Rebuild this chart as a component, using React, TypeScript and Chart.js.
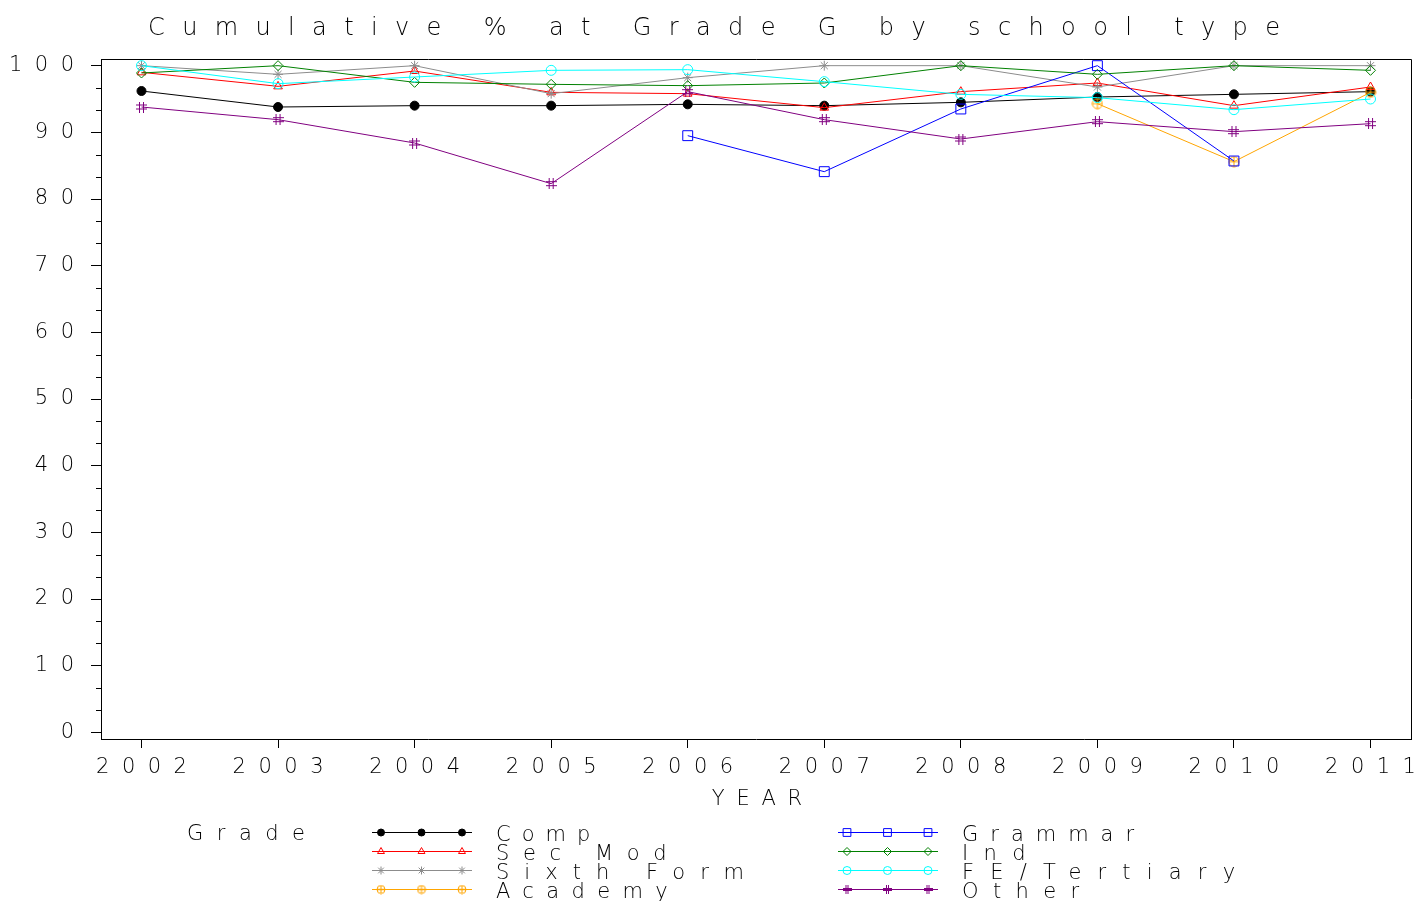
import React, { useEffect, useRef } from 'react';
import { Chart, registerables } from 'chart.js';
import { drawPoint } from 'chart.js/helpers';

Chart.register(...registerables);

// ---------------- data ----------------
const years = [2002, 2003, 2004, 2005, 2006, 2007, 2008, 2009, 2010, 2011];
const yTickValues = [0, 10, 20, 30, 40, 50, 60, 70, 80, 90, 100];

const compValues = [96.2, 93.8, 94.0, 94.0, 94.2, 94.0, 94.5, 95.3, 95.7, 96.1];
const secModValues = [99.0, 96.9, 99.2, 96.0, 95.8, 93.7, 96.1, 97.4, 94.0, 96.8];
const sixthFormValues = [100, 98.7, 100, 95.8, 98.2, 100, 100, 96.8, 100, 100];
const academyValues = [null, null, null, null, null, null, null, 94.3, 85.6, 96.0];
const grammarValues = [null, null, null, null, 89.5, 84.1, 93.5, 100, 85.7, null];
const indValues = [98.9, 100, 97.5, 97.2, 97.0, 97.4, 100, 98.7, 100, 99.3];
const feTertiaryValues = [100, 97.3, 98.3, 99.3, 99.4, 97.6, 95.7, 95.2, 93.4, 95.0];
const otherValues = [93.8, 91.9, 88.4, 82.3, 96.1, 91.9, 89.0, 91.6, 90.1, 91.3];

const seriesNames = ['Comp', 'Sec Mod', 'Sixth Form', 'Academy', 'Grammar', 'Ind', 'FE/Tertiary', 'Other'];
const seriesValues = [compValues, secModValues, sixthFormValues, academyValues, grammarValues, indValues, feTertiaryValues, otherValues];

const titleText = 'Cumulative % at Grade G by school type';
const xTitleText = 'YEAR';
const legendTitleText = 'Grade';

// ---------------- styles ----------------
const FAMILY = "'DejaVu Sans', sans-serif";
const WEIGHT = 200;
const seriesColors = ['#000000', '#ff0000', '#8c8c8c', '#ffa500', '#0000ff', '#008000', '#00ffff', '#800080'];
const TEXT_COLOR = '#000';
const CHAR_ADVANCE = 26.3;

function makeHash(size: number, color: string) {
  const c = document.createElement('canvas');
  c.width = size; c.height = size;
  const g = c.getContext('2d')!;
  g.strokeStyle = color; g.lineWidth = 1;
  const a = Math.floor(size / 3) + 0.5;
  const b = size - Math.floor(size / 3) - 0.5;
  g.beginPath();
  g.moveTo(a, 0); g.lineTo(a, size);
  g.moveTo(b, 0); g.lineTo(b, size);
  g.moveTo(0, a); g.lineTo(size, a);
  g.moveTo(0, b); g.lineTo(size, b);
  g.stroke();
  return c;
}

function makeCirclePlus(size: number, color: string) {
  const c = document.createElement('canvas');
  c.width = size; c.height = size;
  const g = c.getContext('2d')!;
  g.strokeStyle = color; g.lineWidth = 1;
  const m = size / 2;
  const r = size / 2 - 1;
  g.beginPath();
  g.arc(m, m, r, 0, Math.PI * 2);
  g.moveTo(m, m - r); g.lineTo(m, m + r);
  g.moveTo(m - r, m); g.lineTo(m + r, m);
  g.stroke();
  return c;
}

// draw text so that each character takes roughly the same advance (like the SAS stroke font)
function spacedText(ctx: CanvasRenderingContext2D, text: string, x: number, y: number, adv: number) {
  (ctx as any).letterSpacing = '0px';
  const w0 = ctx.measureText(text).width;
  const sp = Math.max(0, (text.length * adv - w0) / text.length);
  (ctx as any).letterSpacing = `${sp}px`;
  ctx.fillText(text, x, y);
  return w0 + sp * (text.length - 1);
}

export default function App() {
  const canvasRef = useRef<HTMLCanvasElement | null>(null);

  useEffect(() => {
    const canvas = canvasRef.current;
    if (!canvas) return;

    const academyBig = makeCirclePlus(12, seriesColors[3]);
    const otherBig = makeHash(11, seriesColors[7]);
    const academySmall = makeCirclePlus(10, seriesColors[3]);
    const otherSmall = makeHash(9, seriesColors[7]);

    const pointStyles: any[] = ['circle', 'triangle', 'star', academyBig, 'rect', 'rectRot', 'circle', otherBig];
    const pointRadii = [4.5, 5, 5, 6, 7, 5, 5, 5];
    const legendStyles: any[] = ['circle', 'triangle', 'star', academySmall, 'rect', 'rectRot', 'circle', otherSmall];
    const legendRadii = [3.5, 4, 4, 4, 5.5, 4, 4, 4];

    const datasets = seriesNames.map((name, i) => ({
      label: name,
      data: years.map((yr, j) => ({ x: yr, y: seriesValues[i][j] })),
      borderColor: seriesColors[i],
      backgroundColor: i === 0 ? seriesColors[i] : 'rgba(0,0,0,0)',
      pointBackgroundColor: i === 0 ? seriesColors[i] : 'rgba(0,0,0,0)',
      pointBorderColor: seriesColors[i],
      borderWidth: 1,
      pointBorderWidth: 1,
      pointStyle: pointStyles[i],
      pointRadius: pointRadii[i],
      tension: 0,
      spanGaps: false,
      order: seriesNames.length - i,
    }));

    const TICK_SPACING = 12.5;
    const tickFont = { family: FAMILY, size: 21, weight: WEIGHT as any };

    const sasPlugin = {
      id: 'sasDecor',
      beforeDraw(chart: any) {
        chart.ctx.letterSpacing = `${TICK_SPACING}px`;
      },
      afterDraw(chart: any) {
        const ctx = chart.ctx as CanvasRenderingContext2D;
        const { left, right, top, bottom } = chart.chartArea;
        ctx.save();
        (ctx as any).letterSpacing = '0px';
        ctx.strokeStyle = '#000';
        ctx.lineWidth = 1;
        // frame (top and right)
        ctx.beginPath();
        ctx.moveTo(left, Math.round(top) + 0.5);
        ctx.lineTo(Math.round(right) + 0.5, Math.round(top) + 0.5);
        ctx.lineTo(Math.round(right) + 0.5, bottom);
        ctx.stroke();
        // minor ticks on y
        const ys = chart.scales.y;
        ctx.beginPath();
        for (let i = 0; i < yTickValues.length - 1; i++) {
          for (const f of [1 / 3, 2 / 3]) {
            const v = yTickValues[i] + (yTickValues[i + 1] - yTickValues[i]) * f;
            const py = Math.round(ys.getPixelForValue(v)) + 0.5;
            ctx.moveTo(left - 5, py);
            ctx.lineTo(left, py);
          }
        }
        ctx.stroke();

        ctx.fillStyle = TEXT_COLOR;
        ctx.textBaseline = 'middle';
        ctx.textAlign = 'left';

        // title
        ctx.font = `${WEIGHT} 24px ${FAMILY}`;
        const w0 = ctx.measureText(titleText).width;
        const span = 1132;
        const sp = (span - w0) / (titleText.length - 1);
        (ctx as any).letterSpacing = `${sp}px`;
        ctx.fillText(titleText, 148, 28.5);

        // x axis title
        ctx.font = `${WEIGHT} 21px ${FAMILY}`;
        (ctx as any).letterSpacing = '0px';
        const xw0 = ctx.measureText(xTitleText).width;
        const xsp = (xTitleText.length * 25.5 - xw0) / xTitleText.length;
        const xw = xw0 + xsp * (xTitleText.length - 1);
        (ctx as any).letterSpacing = `${xsp}px`;
        ctx.fillText(xTitleText, (left + right) / 2 + 1 - xw / 2, 800);

        // legend
        spacedText(ctx, legendTitleText, 187, 834.5, CHAR_ADVANCE);
        const rowY0 = 831.5;
        const rowDy = 19.3;
        const colX = [372, 838];
        seriesNames.forEach((name, i) => {
          const col = Math.floor(i / 4);
          const row = i % 4;
          const y = Math.round(rowY0 + row * rowDy) + 0.5;
          const x0 = colX[col];
          ctx.save();
          (ctx as any).letterSpacing = '0px';
          ctx.strokeStyle = seriesColors[i];
          ctx.lineWidth = 1;
          ctx.beginPath();
          ctx.moveTo(x0, y);
          ctx.lineTo(x0 + 100, y);
          ctx.stroke();
          ctx.fillStyle = i === 0 ? seriesColors[i] : 'rgba(0,0,0,0)';
          for (const dx of [9, 49.5, 90]) {
            drawPoint(ctx, { pointStyle: legendStyles[i], radius: legendRadii[i], rotation: 0, borderWidth: 1 } as any, x0 + dx, y);
          }
          ctx.restore();
          ctx.fillStyle = TEXT_COLOR;
          ctx.font = `${WEIGHT} 21px ${FAMILY}`;
          ctx.textBaseline = 'middle';
          ctx.textAlign = 'left';
          spacedText(ctx, name, x0 + 124, y + 3, CHAR_ADVANCE);
        });
        ctx.restore();
      },
    };

    const chart = new Chart(canvas, {
      type: 'line',
      data: { datasets: datasets as any },
      options: {
        responsive: false,
        animation: false,
        devicePixelRatio: 1,
        layout: { autoPadding: false, padding: { top: 59, right: 8, bottom: 86, left: 0 } } as any,
        plugins: {
          legend: { display: false },
          title: { display: false },
          tooltip: { enabled: false },
        },
        scales: {
          x: {
            type: 'linear',
            min: 2001.7035,
            max: 2011.2965,
            afterBuildTicks: (s: any) => { s.ticks = years.map((v) => ({ value: v })); },
            afterFit: (s: any) => { s.height = 76; },
            grid: { display: true, drawOnChartArea: false, drawTicks: true, tickLength: 9, color: '#000', lineWidth: 1 },
            border: { display: true, color: '#000', width: 1 },
            ticks: {
              font: tickFont,
              color: TEXT_COLOR,
              padding: 7,
              labelOffset: TICK_SPACING / 2,
              maxRotation: 0,
              autoSkip: false,
              callback: (v: any) => String(v),
            },
          },
          y: {
            type: 'linear',
            min: -1,
            max: 101,
            afterBuildTicks: (s: any) => { s.ticks = yTickValues.map((v) => ({ value: v })); },
            afterFit: (s: any) => { s.width = 101; },
            grid: { display: true, drawOnChartArea: false, drawTicks: true, tickLength: 10, color: '#000', lineWidth: 1 },
            border: { display: true, color: '#000', width: 1 },
            ticks: {
              font: tickFont,
              color: TEXT_COLOR,
              padding: 4.5,
              autoSkip: false,
              callback: (v: any) => String(v),
            },
          },
        },
      },
      plugins: [sasPlugin],
    });

    return () => { chart.destroy(); };
  }, []);

  return (
    <div style={{ position: 'fixed', left: 0, top: 0, width: 1419, height: 901, background: '#fff' }}>
      <canvas ref={canvasRef} width={1419} height={901} style={{ display: 'block', width: 1419, height: 901 }} />
    </div>
  );
}
